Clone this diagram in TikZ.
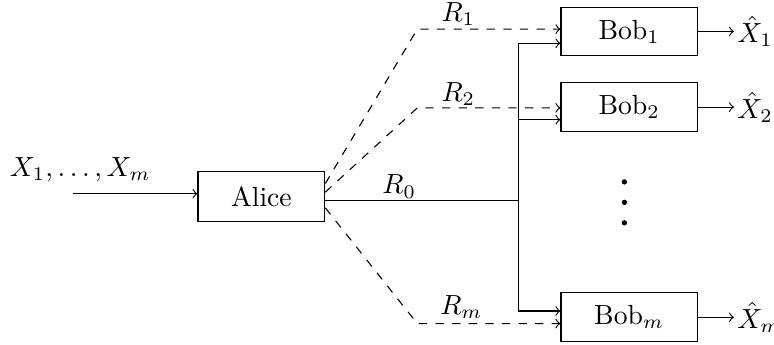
\documentclass[tikz,border=0pt]{standalone}
\usepackage{amsmath,amssymb}
\usepackage{tikz}
\usetikzlibrary{arrows,positioning,calc}

\tikzset{
    party/.style={draw,rectangle,minimum width=1.61cm,minimum height=0.635cm,inner sep=0pt},
    bobbox/.style={draw,rectangle,minimum width=1.73cm,minimum height=0.62cm,inner sep=0pt},
    private/.style={->,dashed},
    common/.style={->}
}

\begin{document}
\begin{tikzpicture}
    \useasboundingbox (0,0) rectangle (9.83,4.38);

    % Encoder
    \node[party] (alice) at (3.32,1.88) {Alice};
    \coordinate (src) at (0.93,1.92);
    \node (srclabel) at (1.02,2.22) {$X_1,\ldots,X_m$};
    \draw[common] (src) -- (src -| alice.west);

    % Decoders
    \node[bobbox] (bob1) at (7.99,3.98) {Bob$_1$};
    \node[bobbox] (bob2) at (7.99,3.02) {Bob$_2$};
    \node[bobbox] (bobm) at (7.99,0.35) {Bob$_m$};
    \foreach \y in {2.07,1.81,1.55}
        \fill (7.93,\y) circle (0.034cm);

    % Common message R_0
    \coordinate (split) at (6.59,1.83);
    \draw (alice.east |- split) -- (split);
    \node (r0) at (5.07,2.01) {$R_0$};
    \draw[common] (split) |- ($(bob1.west)+(0,-0.15)$);
    \draw[common] (split) |- ($(bob2.west)+(0,-0.16)$);
    \draw[common] (split) |- ($(bobm.west)+(0,0.08)$);

    % Private messages
    \coordinate (k1) at (5.30,4.01);
    \coordinate (k2) at (5.30,3.01);
    \coordinate (km) at (5.30,0.27);
    \draw[private] ($(alice.east)+(0,0.17)$) -- (k1) -- (k1 -| bob1.west);
    \draw[private] ($(alice.east)+(0,0.06)$) -- (k2) -- (k2 -| bob2.west);
    \draw[private] ($(alice.east)+(0,-0.14)$) -- (km) -- (km -| bobm.west);
    \node (r1) at (5.82,4.20) {$R_1$};
    \node (r2) at (5.82,3.19) {$R_2$};
    \node (rm) at (5.86,0.48) {$R_m$};

    % Reconstructions
    \draw[common] (bob1.east) -- ++(0.46,0) node[right,inner sep=1pt] (xh1) {$\hat{X}_1$};
    \draw[common] (bob2.east) -- ++(0.46,0) node[right,inner sep=1pt] (xh2) {$\hat{X}_2$};
    \draw[common] (bobm.east) -- ++(0.46,0) node[right,inner sep=1pt] (xhm) {$\hat{X}_m$};
\end{tikzpicture}
\end{document}
